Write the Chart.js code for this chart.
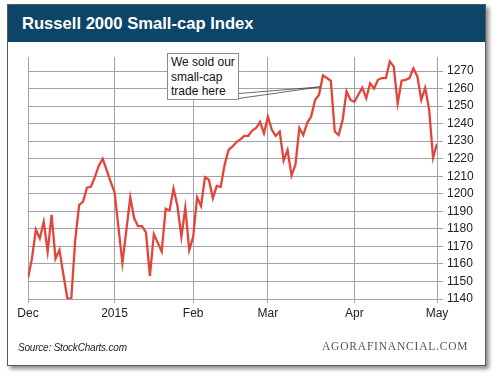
<!DOCTYPE html>
<html>
<head>
<meta charset="utf-8">
<script src="https://cdn.jsdelivr.net/npm/chart.js@4"></script>
<style>
  html, body { margin: 0; padding: 0; background: #fff; }
  body { width: 500px; height: 378px; position: relative; overflow: hidden; font-family: "Liberation Sans", Arial, sans-serif; }
  #card { position: absolute; left: 7px; top: 4px; width: 479px; height: 362px; box-sizing: border-box;
          border: 1px solid #5a5a5a; background: #fff; box-shadow: 3px 3px 4px rgba(0,0,0,0.45); }
  #titlebar { position: absolute; left: 0; top: 0; right: 0; height: 37px; background: #0c4567; }
  #title { position: absolute; left: 14px; top: 9px; color: #fff; font-weight: bold; font-size: 16.6px; white-space: nowrap; }
  #source { position: absolute; left: 18px; top: 342px; font-style: italic; font-size: 10px; letter-spacing: -0.2px; color: #222; white-space: nowrap; }
  #brand { position: absolute; left: 322px; top: 340px; font-family: "Liberation Serif", "Times New Roman", serif; font-size: 11.5px; letter-spacing: 0.8px; color: #555; white-space: nowrap; }
  #chartwrap { position: absolute; left: 0; top: 0; width: 500px; height: 378px; }
  #note { position: absolute; left: 167px; top: 53px; width: 72px; height: 47px; box-sizing: border-box;
          border: 1px solid #8a8a8a; background: #fff; font-size: 12px; line-height: 14.5px; padding: 1px 0 0 3px; color: #111; white-space: nowrap; }
</style>
</head>
<body>
<div id="card">
  <div id="titlebar"><div id="title">Russell 2000 Small-cap Index</div></div>
</div>
<div id="chartwrap"><canvas id="c" width="500" height="378"></canvas></div>
<div id="note">We sold our<br>small-cap<br>trade here</div>
<div id="source">Source: StockCharts.com</div>
<div id="brand">AGORAFINANCIAL.COM</div>
<script>
// Trading-day closes, Dec 1 2014 .. May 1 2015 (index = trading day)
const values = [
  1152, 1163, 1179.5, 1174.5, 1184, 1167, 1188, 1163, 1168, 1154,
  1140.5, 1140, 1173.5, 1193.5, 1195.5, 1203.5, 1204, 1209.5, 1216, 1220,
  1213.5, 1207, 1201, 1181, 1160.5, 1179, 1198, 1186, 1181.5, 1181.5,
  1178, 1153, 1177, 1172, 1167, 1191.5, 1190.5, 1203, 1193, 1175.5,
  1192, 1168, 1175.5, 1198, 1193, 1209.5, 1208, 1197.5, 1204.5, 1204,
  1216.5, 1225, 1227, 1229.5, 1231, 1233, 1233, 1236, 1237.5, 1241,
  1234.5, 1244, 1236.5, 1233, 1235.5, 1219, 1225, 1210.5, 1216.5, 1237.5,
  1233.5, 1240.5, 1244, 1253.5, 1256.5, 1267.5, 1266, 1264.5, 1235.5, 1233.5,
  1242, 1258.5, 1253.5, 1252.5, 1256.5, 1260.5, 1254.5, 1263, 1260, 1265,
  1266, 1266, 1275.5, 1272.5, 1251.5, 1264.5, 1265, 1266, 1271.5, 1267,
  1253.5, 1260.5, 1248, 1220.5, 1228.5
];
const monthStartIdx = [0, 22, 42, 61, 83, 104];
const monthLabels = ['Dec', '2015', 'Feb', 'Mar', 'Apr', 'May'];
const yTicks = [1140, 1150, 1160, 1170, 1180, 1190, 1200, 1210, 1220, 1230, 1240, 1250, 1260, 1270];
const noteTarget = { x: 74.4, y: 1261 };

const pointerPlugin = {
  id: 'pointer',
  afterDatasetsDraw(chart) {
    const ctx = chart.ctx;
    const tx = chart.scales.x.getPixelForValue(noteTarget.x);
    const ty = chart.scales.y.getPixelForValue(noteTarget.y);
    ctx.save();
    ctx.strokeStyle = '#444';
    ctx.lineWidth = 0.8;
    ctx.beginPath();
    ctx.moveTo(231.5, 99.5); ctx.lineTo(tx, ty);
    ctx.moveTo(239, 93.5); ctx.lineTo(tx, ty);
    ctx.stroke();
    ctx.restore();
  }
};

const fontFam = '"Liberation Sans", Arial, sans-serif';
new Chart(document.getElementById('c'), {
  type: 'line',
  data: {
    datasets: [{
      data: values.map((v, i) => ({ x: i, y: v })),
      borderColor: '#e2453a',
      borderWidth: 2.3,
      pointRadius: 0,
      tension: 0,
      fill: false
    }]
  },
  options: {
    responsive: false,
    animation: false,
    events: [],
    layout: { padding: { left: 28, top: 57, right: 23, bottom: 57 } },
    plugins: { legend: { display: false }, tooltip: { enabled: false } },
    scales: {
      x: {
        type: 'linear', min: 0, max: 104,
        afterBuildTicks: s => { s.ticks = monthStartIdx.map(v => ({ value: v })); },
        afterFit: s => { s.height = 22; },
        grid: { color: '#a3a3a3', lineWidth: 1, tickLength: 4 },
        border: { display: false },
        ticks: {
          autoSkip: false, maxRotation: 0, padding: 3, color: '#222',
          font: { family: fontFam, size: 12 },
          callback: v => { const k = monthStartIdx.indexOf(v); return k >= 0 ? monthLabels[k] : ''; }
        }
      },
      y: {
        position: 'right', min: 1140, max: 1278,
        afterBuildTicks: s => { s.ticks = yTicks.map(v => ({ value: v })); },
        afterFit: s => { s.width = 40; },
        grid: { color: '#a3a3a3', lineWidth: 1, tickLength: 6 },
        border: { display: false },
        ticks: { padding: 4, color: '#222', font: { family: fontFam, size: 12 }, callback: v => String(v) }
      }
    }
  },
  plugins: [pointerPlugin]
});
</script>
</body>
</html>
